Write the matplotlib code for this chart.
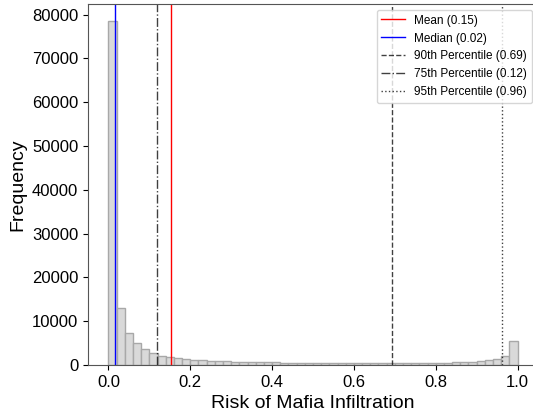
import numpy as np
import matplotlib
matplotlib.use("Agg")
import matplotlib.pyplot as plt

plt.rcParams["font.family"] = ["Liberation Sans", "DejaVu Sans"]

# histogram counts, 50 bins of width 0.02 on [0, 1]
bin_edges = np.linspace(0.0, 1.0, 51)
counts = [78500, 13100, 7400, 4950, 3600, 2750, 2150, 1850, 1650, 1350,
          1200, 1080, 980, 900, 830, 770, 720, 680, 640, 610,
          580, 550, 520, 500, 480, 460, 450, 440, 430, 420,
          415, 410, 410, 410, 415, 420, 430, 440, 460, 480,
          510, 550, 600, 680, 760, 880, 1050, 1300, 1950, 5500]

# summary statistics
mean_val = 0.153
median_val = 0.016
p90_val = 0.692
p75_val = 0.119
p95_val = 0.963

fig = plt.figure(figsize=(5.33, 4.11), dpi=100)
ax = fig.add_axes([88 / 533, 46 / 411, 450 / 533, 361 / 411])

ax.hist(bin_edges[:-1], bins=bin_edges, weights=counts,
        facecolor="#d9d9d9", edgecolor="#a8a8a8", linewidth=1.0)

ax.axvline(mean_val, color="red", lw=1.0, label=f"Mean ({mean_val:.2f})")
ax.axvline(median_val, color="blue", lw=1.0, label=f"Median ({median_val:.2f})")
ax.axvline(p90_val, color="black", ls="--", lw=1.0, alpha=0.75,
           label=f"90th Percentile ({p90_val:.2f})")
ax.axvline(p75_val, color="black", ls="-.", lw=1.0, alpha=0.75,
           label=f"75th Percentile ({p75_val:.2f})")
ax.axvline(p95_val, color="black", ls=":", lw=1.0, alpha=0.75,
           label=f"95th Percentile ({p95_val:.2f})")

ax.set_xlim(-0.05, 1.05)
ax.set_xticks([0.0, 0.2, 0.4, 0.6, 0.8, 1.0])
ax.set_xlabel("Risk of Mafia Infiltration", fontsize=14)
ax.set_ylabel("Frequency", fontsize=14)
ax.tick_params(labelsize=12)
for sp in ax.spines.values():
    sp.set_color("#555555")

ax.legend(loc="upper right", fontsize=8.5)

fig.savefig("out.png", dpi=100)
